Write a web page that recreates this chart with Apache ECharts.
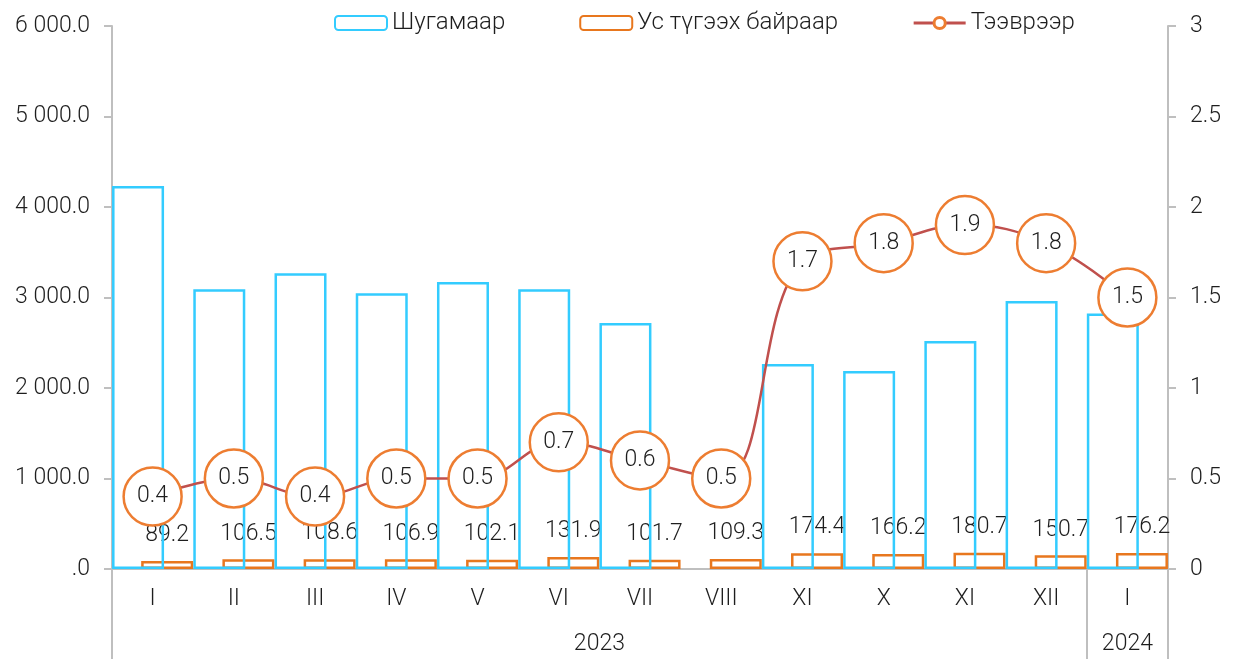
<!DOCTYPE html>
<html>
<head>
<meta charset="utf-8">
<style>
  html, body { margin: 0; padding: 0; background: #fff; }
  #chart { width: 1235px; height: 659px; }
</style>
<script src="https://cdn.jsdelivr.net/npm/echarts@6/dist/echarts.min.js"></script>
</head>
<body>
<div id="chart"></div>
<script>
// Month labels on the category axis
const months = ['I', 'II', 'III', 'IV', 'V', 'VI', 'VII', 'VIII', 'XI', 'X', 'XI', 'XII', 'I'];
// Year groups and how many months each spans
const years = ['2023', '2024'];
const yearSpans = [12, 1];

// Series values
const pipeline = [4233, 3092, 3269, 3048, 3170, 3092, 2717, null, 2264, 2187, 2518, 2960, 2823];
const kiosks = [89.2, 106.5, 108.6, 106.9, 102.1, 131.9, 101.7, 109.3, 174.4, 166.2, 180.7, 150.7, 176.2];
const transport = [0.4, 0.5, 0.4, 0.5, 0.5, 0.7, 0.6, 0.5, 1.7, 1.8, 1.9, 1.8, 1.5];

// Year group boundaries and centres along the month axis
const bounds = [0];
yearSpans.forEach(s => bounds.push(bounds[bounds.length - 1] + s));
const centres = yearSpans.map((s, i) => bounds[i] + s / 2);

const FONT = 'Roboto, "Noto Sans", sans-serif';
const WEIGHT = 300;
const TEXT = '#1e1e1e';
const AXIS = '#BFBFBF';
const FS = 23;

function leftLabel(v) {
  if (v === 0) return '.0';
  const s = v.toFixed(1);
  const [intPart, dec] = s.split('.');
  return intPart.replace(/\B(?=(\d{3})+(?!\d))/g, ' ') + '.' + dec;
}

const txt = { fontSize: FS, color: TEXT, fontFamily: FONT, fontWeight: WEIGHT };

const chart = echarts.init(document.getElementById('chart'), null, { renderer: 'canvas' });
chart.setOption({
  animation: false,
  textStyle: { fontFamily: FONT, fontWeight: WEIGHT },
  legend: {
    left: 329,
    top: 6,
    itemWidth: 52,
    itemHeight: 14,
    itemGap: 74,
    textStyle: { fontFamily: FONT, fontWeight: WEIGHT, fontSize: 24, color: TEXT },
    data: [
      'Шугамаар',
      'Ус түгээх байраар',
      { name: 'Тээврээр', itemStyle: { borderWidth: 3 }, lineStyle: { width: 3 } }
    ]
  },
  grid: { left: 112, right: 67, top: 26, bottom: 90, containLabel: false },
  xAxis: [
    {
      type: 'category',
      data: months,
      axisLine: { show: true, lineStyle: { color: AXIS, width: 2 } },
      axisTick: { show: false },
      axisLabel: Object.assign({ margin: 19, interval: 0 }, txt),
      splitLine: { show: false }
    },
    {
      type: 'value',
      position: 'bottom',
      min: 0,
      max: months.length,
      axisLine: { show: false },
      splitLine: { show: false },
      axisTick: {
        show: true,
        customValues: bounds,
        length: 90,
        lineStyle: { color: AXIS, width: 2 }
      },
      axisLabel: Object.assign({
        show: true,
        customValues: centres,
        margin: 64,
        formatter: v => {
          const i = centres.findIndex(c => Math.abs(c - v) < 1e-6);
          return i >= 0 ? years[i] : '';
        }
      }, txt)
    }
  ],
  yAxis: [
    {
      type: 'value',
      min: 0,
      max: 6000,
      interval: 1000,
      axisLine: { show: true, lineStyle: { color: AXIS, width: 2 } },
      axisTick: { show: true, length: 8, lineStyle: { color: AXIS, width: 2 } },
      axisLabel: Object.assign({ margin: 22, formatter: leftLabel }, txt),
      splitLine: { show: false }
    },
    {
      type: 'value',
      position: 'right',
      min: 0,
      max: 3,
      interval: 0.5,
      axisLine: { show: true, lineStyle: { color: AXIS, width: 2 } },
      axisTick: { show: true, length: 8, lineStyle: { color: AXIS, width: 2 } },
      axisLabel: Object.assign({ margin: 22 }, txt),
      splitLine: { show: false }
    }
  ],
  series: [
    {
      name: 'Шугамаар',
      type: 'bar',
      data: pipeline,
      barWidth: 52,
      barGap: '-44%',
      z: 3,
      itemStyle: { color: 'rgba(255,255,255,0)', borderColor: '#33CCFF', borderWidth: 2.5 }
    },
    {
      name: 'Ус түгээх байраар',
      type: 'bar',
      data: kiosks,
      barWidth: 52,
      barGap: '-44%',
      z: 2,
      itemStyle: { color: 'rgba(255,255,255,0)', borderColor: '#E8771E', borderWidth: 2.5 },
      label: Object.assign({
        show: true,
        position: 'top',
        distance: 14,
        formatter: p => Number(p.value).toFixed(1)
      }, txt)
    },
    {
      name: 'Тээврээр',
      type: 'line',
      yAxisIndex: 1,
      data: transport,
      smooth: 0.4,
      z: 5,
      color: '#C0504D',
      lineStyle: { color: '#C0504D', width: 2.5 },
      symbol: 'circle',
      symbolSize: 58,
      itemStyle: { color: '#ffffff', borderColor: '#ED7D31', borderWidth: 2.5 },
      label: Object.assign({
        show: true,
        position: 'inside',
        formatter: p => Number(p.value).toFixed(1)
      }, txt)
    }
  ]
});
</script>
</body>
</html>
